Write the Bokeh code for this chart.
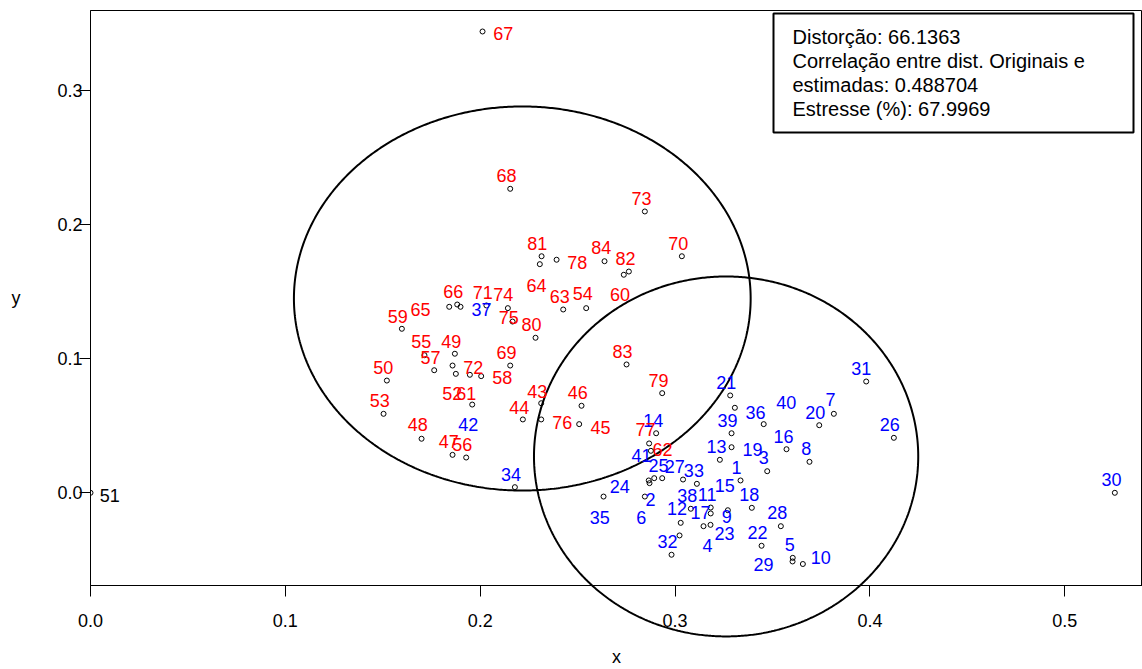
import numpy as np
from bokeh.plotting import figure
from bokeh.layouts import column
from bokeh.models import (ColumnDataSource, Range1d, BoxAnnotation,
                          Label, FixedTicker, PrintfTickFormatter)
from bokeh.core.properties import value
from bokeh.embed import file_html
from bokeh.resources import INLINE

# ---------------- data ----------------
ids = list(range(1, 85))
xs = [0.3336, 0.2869, 0.3473, 0.3023, 0.3604, 0.2845, 0.3815, 0.3690, 0.3183, 0.3656,
      0.3183, 0.3029, 0.3230, 0.2903, 0.3271, 0.3572, 0.3146, 0.3394, 0.3290, 0.3740,
      0.3283, 0.3444, 0.3182, 0.2633, 0.2934, 0.4123, 0.3041, 0.3543, 0.3603, 0.5257,
      0.3981, 0.2982, 0.3112, 0.2178, 0.2893, 0.3455, 0.2032, 0.3081, 0.3290, 0.3307,
      0.2865, 0.1959,
      0.2313, 0.2219, 0.2508, 0.2520, 0.1858, 0.1699, 0.1870, 0.1521, 0.0000, 0.1858,
      0.1504, 0.2544, 0.1714, 0.1928, 0.1764, 0.2005, 0.1598, 0.2737, 0.1875, 0.2876,
      0.2426, 0.2306, 0.1882, 0.1841, 0.2012, 0.2154, 0.2154, 0.3035, 0.1899, 0.1947,
      0.2845, 0.2142, 0.2166, 0.2313, 0.2867, 0.2392, 0.2934, 0.2284, 0.2315, 0.2763,
      0.2751, 0.2638]
ys = [0.0092, 0.0072, 0.0161, -0.0318, -0.0485, -0.0028, 0.0589, 0.0231, -0.0154, -0.0531,
      -0.0110, -0.0224, 0.0246, 0.0444, -0.0130, 0.0325, -0.0249, -0.0112, 0.0340, 0.0504,
      0.0726, -0.0395, -0.0239, -0.0028, 0.0109, 0.0410, 0.0099, -0.0249, -0.0512, 0.0000,
      0.0830, -0.0462, 0.0067, 0.0042, 0.0109, 0.0512, 0.1397, -0.0119, 0.0444, 0.0634,
      0.0092, 0.0658,
      0.0668, 0.0547, 0.0512, 0.0649, 0.0283, 0.0403, 0.1037, 0.0837, 0.0000, 0.0949,
      0.0589, 0.1377, 0.1026, 0.0263, 0.0914, 0.0870, 0.1223, 0.1626, 0.0887, 0.0313,
      0.1367, 0.1705, 0.1404, 0.1387, 0.3440, 0.2267, 0.0949, 0.1764, 0.1387, 0.0880,
      0.2098, 0.1377, 0.1277, 0.0547, 0.0368, 0.1738, 0.0743, 0.1156, 0.1764, 0.1650,
      0.0957, 0.1727]
groups = ["g1"] * 42 + ["g2"] * 8 + ["out"] + ["g2"] * 33

stats_lines = ["Distorção: 66.1363",
               "Correlação entre dist. Originais e",
               "estimadas: 0.488704",
               "Estresse (%): 67.9969"]

# ellipses: centre x, centre y, half-width, half-height
ellipse_1 = (0.2216, 0.1449, 0.1172, 0.1432)
ellipse_2 = (0.3262, 0.0271, 0.0986, 0.1342)

x_ticks = [0.0, 0.1, 0.2, 0.3, 0.4, 0.5]
y_ticks = [0.0, 0.1, 0.2, 0.3]

# ---------------- label placement (pixel offsets, style) ----------------
label_dx = [-4, 1, -3.4, 28, -3, -3.6, -3.3, -3.3, 16, 18,
            -3.6, -3.6, -3.3, -3, -3, -3, -3, -2.6, 21, -4,
            -4, -4, 14, 16.3, -3.7, -4, -8.2, -3.6, -29, -3.3,
            -5, -4, -3, -3.8, -54.4, -8.3, -5, -3.6, -4, 51.4,
            -7.3, -4,
            -4, -3.6, 21.3, -3.7, -3.7, -3.7, -3.6, -3.6, 19.3, -0.3,
            -3.7, -3.4, -3.3, -4, -3.7, 21, -4, -3.8, 10.4, 11.7,
            -3.5, -3.3, -36.7, 4, 20.7, -3.7, -3.7, -3.6, 22.3, 3.4,
            -3.3, -4.6, -3.7, 21, -3.7, 20.7, -3.7, -4, -4.3, -3.3,
            -4, -3.3]
label_dy = [-13.3, 16.6, -13.4, 10, -13, 20.7, -14, -13.6, 2.7, -7,
            -12.7, -14, -13.6, -12.7, -24.7, -12.7, -14, -13.3, 2.3, -12.4,
            -12.7, -13.6, 9, -10, -12.4, -13.3, -13, -13.7, 3.3, -13.3,
            -13.3, -13.3, -13.3, -13, 39, -11.4, 4.3, -13.3, -12.7, -5.6,
            -25, 20.3,
            -12.2, -12.3, 3, -13, -13.3, -14, -12.6, -13.3, 2.7, 28.3,
            -13.3, -14.4, -14, -12.7, -13, 1.6, -12.6, 19.5, 20, -1,
            -13, 21.3, 5.3, -15.3, 2.3, -13.3, -13.3, -12.4, -14.6, -7.6,
            -13.3, -14, -4.3, 3.3, -13.7, 2.4, -12.7, -13.5, -12.4, -13.3,
            -13.3, -14]
group_colors = {"g1": "#0000FF", "g2": "#FF0000", "out": "#000000"}

FONT = "Liberation Sans"

# frame geometry (pixels) and ranges
W, H = 1142, 669
FL, FT, FR, FB = 90, 10, 1142, 585
X0, X1 = 0.0, 0.5399
Y0, Y1 = -0.06913, 0.35966


def px_to_x(px):
    return X0 + (px - FL) / (FR - FL) * (X1 - X0)


def py_to_y(py):
    return Y1 - (py - FT) / (FB - FT) * (Y1 - Y0)


def ellipse_pts(e):
    cx, cy, rx, ry = e
    t = np.linspace(0, 2 * np.pi, 721)
    return cx + rx * np.cos(t), cy + ry * np.sin(t)


p = figure(width=W, height=H, output_backend="svg", toolbar_location=None,
           x_range=Range1d(X0, X1), y_range=Range1d(Y0, Y1),
           min_border_left=FL, min_border_right=W - FR, min_border_top=FT,
           min_border_bottom=H - FB, x_axis_label="x", y_axis_label="y")
p.background_fill_color = "white"
p.border_fill_color = "white"
p.outline_line_color = "#000000"
p.outline_line_width = 1
p.xgrid.visible = False
p.ygrid.visible = False

p.xaxis.ticker = FixedTicker(ticks=x_ticks)
p.yaxis.ticker = FixedTicker(ticks=y_ticks)
p.xaxis.formatter = PrintfTickFormatter(format="%.1f")
p.yaxis.formatter = PrintfTickFormatter(format="%.1f")
for ax in (p.xaxis, p.yaxis):
    ax.axis_line_color = "black"
    ax.axis_line_width = 1
    ax.major_tick_line_color = "black"
    ax.major_tick_out = 11
    ax.major_tick_in = 0
    ax.minor_tick_line_color = None
    ax.major_label_text_font = FONT
    ax.major_label_text_font_size = "18px"
    ax.major_label_text_color = "#000000"
    ax.axis_label_text_font = FONT
    ax.axis_label_text_font_size = "18px"
    ax.axis_label_text_font_style = "normal"
    ax.axis_label_text_color = "#000000"
p.xaxis.major_label_standoff = 17
p.xaxis.axis_label_standoff = 17
p.yaxis.major_label_standoff = -3
p.yaxis.axis_label_standoff = 34
p.yaxis.major_label_text_baseline = "bottom"
try:
    p.yaxis.axis_label_orientation = "horizontal"
except Exception:
    pass

# ellipses (inside the frame)
for e in (ellipse_1, ellipse_2):
    ex, ey = ellipse_pts(e)
    p.line(ex, ey, line_color="black", line_width=2)

src = ColumnDataSource(dict(
    x=xs, y=ys, label=[str(i) for i in ids],
    color=[group_colors[g] for g in groups], dx=label_dx, dy=label_dy))

p.scatter("x", "y", source=src, marker="circle", size=5, fill_color=None,
          line_color="black", line_width=1)
p.text("x", "y", text="label", source=src, x_offset="dx", y_offset="dy",
       text_color="color", text_align="center", text_baseline="middle",
       text_font=value(FONT), text_font_size="18px")

# statistics box
p.add_layout(BoxAnnotation(left=px_to_x(773), right=px_to_x(1133),
                           top=py_to_y(13), bottom=py_to_y(132),
                           fill_color="white", fill_alpha=1.0,
                           line_color="black", line_alpha=1.0, line_width=2,
                           level="overlay"))
for i, line in enumerate(stats_lines):
    p.add_layout(Label(x=px_to_x(792), y=py_to_y(36 + 24 * i), text=line,
                       text_font=FONT, text_font_size="20px", text_color="#000000",
                       text_align="left", text_baseline="middle", level="overlay"))

# transparent overlay strip under the x axis, so the lower ellipse can run past it
strip_h = H - FB
p2 = figure(width=W, height=strip_h, output_backend="svg", toolbar_location=None,
            x_range=p.x_range, y_range=Range1d(py_to_y(H), Y0),
            min_border_left=FL, min_border_right=W - FR, min_border_top=0,
            min_border_bottom=0, x_axis_location=None, y_axis_location=None)
p2.outline_line_color = None
p2.background_fill_alpha = 0
p2.border_fill_alpha = 0
p2.xgrid.visible = False
p2.ygrid.visible = False
ex, ey = ellipse_pts(ellipse_2)
p2.line(ex, ey, line_color="black", line_width=2)
p2.margin = (-strip_h, 0, 0, 0)

layout = column(p, p2, spacing=0)
layout.margin = (0, 0, 0, 0)
p.margin = (0, 0, 0, 0)

open("out.html", "w").write(file_html(layout, INLINE))
